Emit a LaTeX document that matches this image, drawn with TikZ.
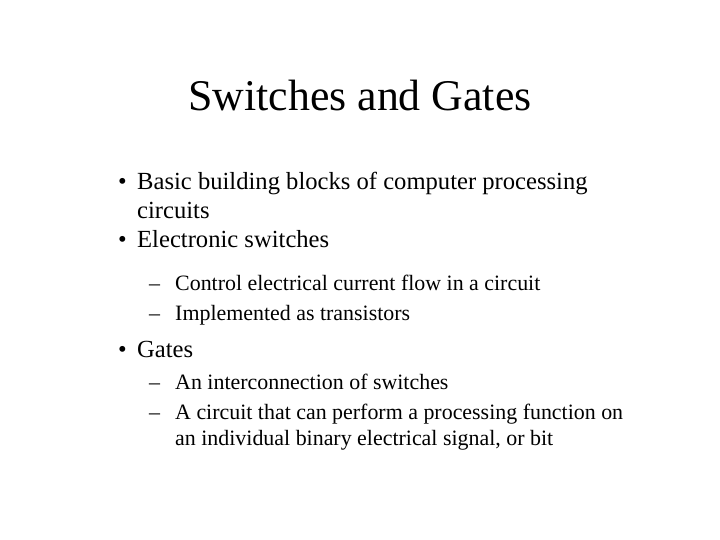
\documentclass[tikz,border=0pt]{standalone}
\usepackage{fontspec}
\setmainfont{Liberation Serif}
\begin{document}
\begin{tikzpicture}[x=1bp,y=-1bp,
  t/.style={anchor=base west,inner sep=0pt,font=\fontsize{24.7}{28}\selectfont},
  s/.style={anchor=base west,inner sep=0pt,font=\fontsize{22}{24}\selectfont}]
\useasboundingbox[fill=white] (0,0) rectangle (720,540);
\node[anchor=base,inner sep=0pt,font=\fontsize{44}{50}\selectfont] (title) at (360,111) {Switches and Gates};
\node[t] (b1) at (118,190) {•};
\node[t] (l1) at (137,190) {Basic building blocks of computer processing};
\node[t] (l1b) at (137,219) {circuits};
\node[t] (b2) at (118,248) {•};
\node[t] (l2) at (137,248) {Electronic switches};
\node[s] (d1) at (149,290) {–};
\node[s] (l3) at (175,290) {Control electrical current flow in a circuit};
\node[s] (d2) at (149,320) {–};
\node[s] (l4) at (175,320) {Implemented as transistors};
\node[t] (b3) at (118,357) {•};
\node[t] (l5) at (137,357) {Gates};
\node[s] (d3) at (149,389) {–};
\node[s] (l6) at (175,389) {An interconnection of switches};
\node[s] (d4) at (149,419) {–};
\node[s] (l7) at (175,419) {A circuit that can perform a processing function on};
\node[s] (l7b) at (175,445) {an individual binary electrical signal, or bit};
\end{tikzpicture}
\end{document}
